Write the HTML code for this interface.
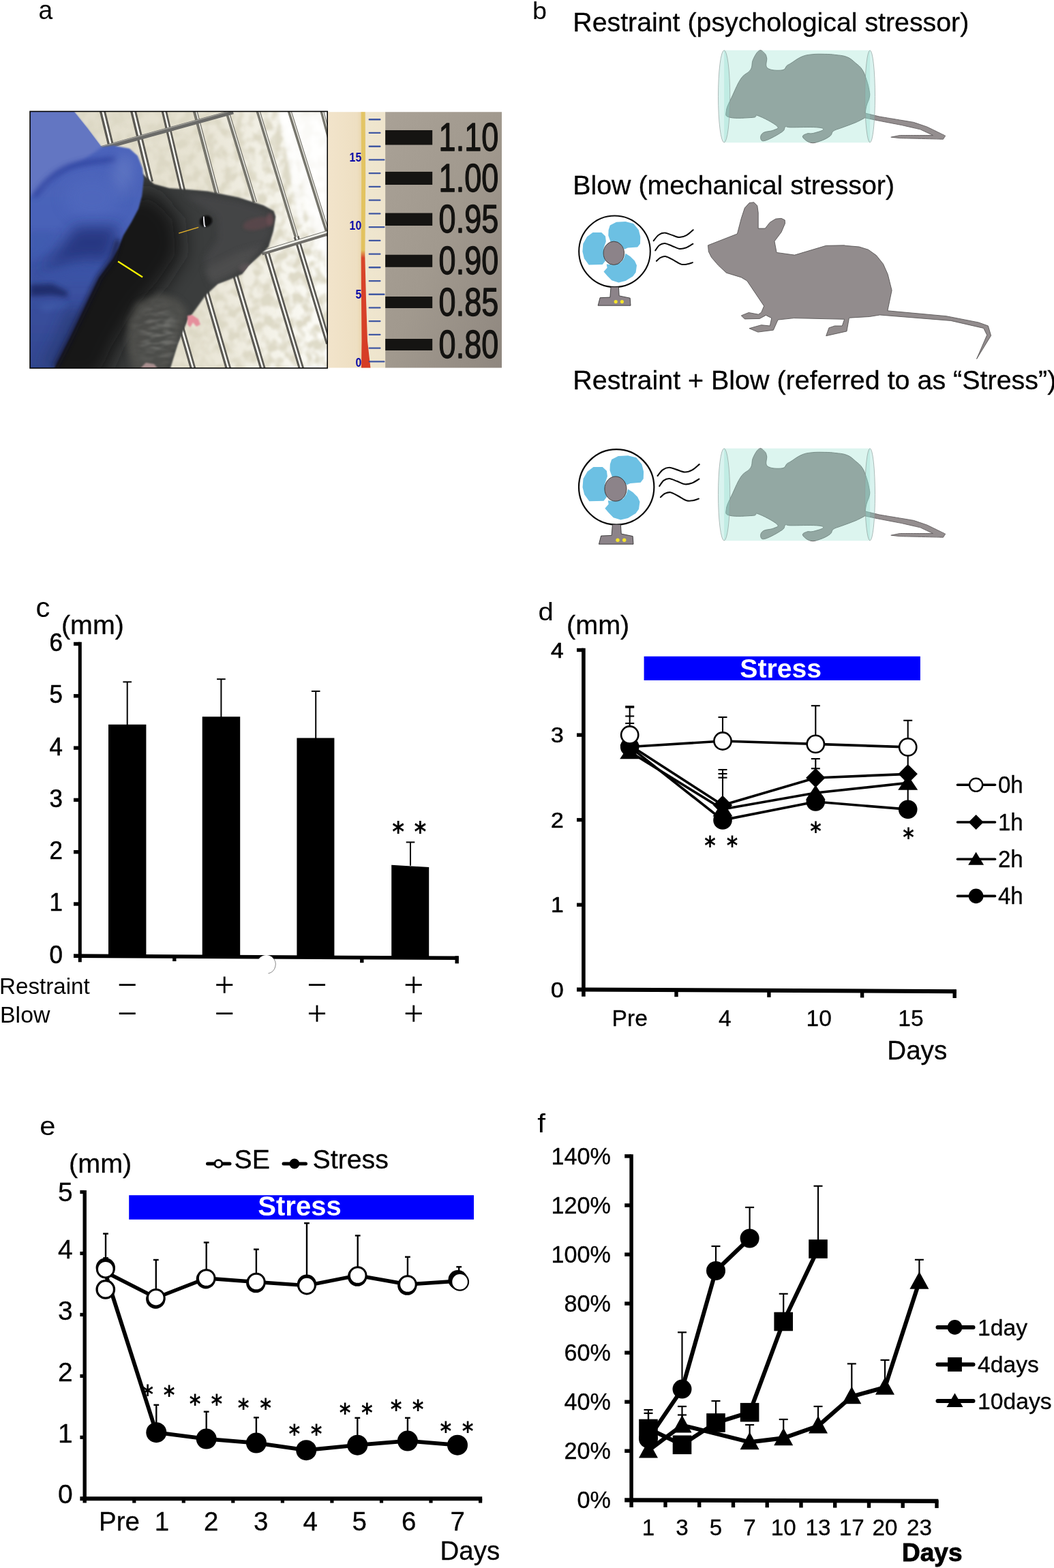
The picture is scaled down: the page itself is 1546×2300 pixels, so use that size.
<!DOCTYPE html>
<html lang="en"><head><meta charset="utf-8"><title>Figure 1</title>
<style>
html,body{margin:0;padding:0;background:#fff;}
body{width:1546px;height:2300px;overflow:hidden;}
svg{display:block;}
.t{font-family:"Liberation Sans",sans-serif;fill:#000;stroke:#000;stroke-width:0.3px;stroke-linejoin:round;}
.l{stroke:none;}
.k{stroke-width:0.6px;}
.s{font-family:"DejaVu Sans","Liberation Sans",sans-serif;font-weight:bold;fill:#000;}
.b{font-family:"Liberation Sans",sans-serif;font-weight:bold;}
</style></head>
<body>
<svg width="1546" height="2300" viewBox="0 0 1546 2300">
<rect width="1546" height="2300" fill="#fff"/>
<!-- panel a -->
<text transform="translate(56.6,28.3) scale(0.96,1)" font-size="38.8" class="t l">a</text>
<defs>
<clipPath id="pc"><rect x="44" y="163.5" width="436.3" height="376.4"/></clipPath>
<clipPath id="rc"><rect x="481" y="164.2" width="255" height="375.3"/></clipPath>
<filter id="bed" x="0" y="0" width="100%" height="100%">
<feTurbulence type="fractalNoise" baseFrequency="0.07 0.06" numOctaves="2" seed="11" result="n"/>
<feColorMatrix in="n" type="matrix" values="0 0 0 0 0.71  0 0 0 0 0.68  0 0 0 0 0.55  3.4 0 0 0 -1.3"/>
<feGaussianBlur stdDeviation="0.9"/>
</filter>
<filter id="fur" x="0" y="0" width="100%" height="100%">
<feTurbulence type="fractalNoise" baseFrequency="0.05 0.16" numOctaves="2" seed="5" result="n"/>
<feColorMatrix in="n" type="matrix" values="0 0 0 0 0.52  0 0 0 0 0.52  0 0 0 0 0.49  2.6 0 0 0 -1.0"/>
<feGaussianBlur stdDeviation="1.1"/>
</filter>
<filter id="b1" x="-20%" y="-20%" width="140%" height="140%"><feGaussianBlur stdDeviation="1"/></filter>
<filter id="b2" x="-20%" y="-20%" width="140%" height="140%"><feGaussianBlur stdDeviation="2.2"/></filter>
<filter id="b3" x="-30%" y="-30%" width="160%" height="160%"><feGaussianBlur stdDeviation="3.5"/></filter>
<filter id="b4" x="-30%" y="-30%" width="160%" height="160%"><feGaussianBlur stdDeviation="5"/></filter>
<filter id="b8" x="-50%" y="-50%" width="200%" height="200%"><feGaussianBlur stdDeviation="10"/></filter>
<filter id="b12" x="-60%" y="-60%" width="220%" height="220%"><feGaussianBlur stdDeviation="15"/></filter>
<filter id="b05" x="-20%" y="-20%" width="140%" height="140%"><feGaussianBlur stdDeviation="0.6"/></filter>
<linearGradient id="bg" x1="0" y1="0" x2="1" y2="0">
<stop offset="0" stop-color="#dfdac8"/><stop offset="0.55" stop-color="#e7e3d3"/><stop offset="0.8" stop-color="#f3f1e7"/><stop offset="1" stop-color="#fdfdf9"/>
</linearGradient>
<linearGradient id="gray" x1="0" y1="0" x2="1" y2="1">
<stop offset="0" stop-color="#a9a196"/><stop offset="0.5" stop-color="#a1998e"/><stop offset="1" stop-color="#8f877f"/>
</linearGradient>
<linearGradient id="beige" x1="0" y1="0" x2="1" y2="0">
<stop offset="0" stop-color="#f2e4cb"/><stop offset="0.5" stop-color="#eedfc2"/><stop offset="0.6" stop-color="#e9d6ad"/><stop offset="0.66" stop-color="#efe6cf"/><stop offset="1" stop-color="#eee4cc"/>
</linearGradient>
<linearGradient id="thr" x1="0" y1="0" x2="0" y2="1">
<stop offset="0" stop-color="#e3c566"/><stop offset="0.54" stop-color="#e2c25e"/><stop offset="0.57" stop-color="#d8452c"/><stop offset="1" stop-color="#d63c26"/>
</linearGradient>
<linearGradient id="glv" x1="0" y1="0" x2="0" y2="1">
<stop offset="0" stop-color="#4d66bd"/><stop offset="0.45" stop-color="#4a62b8"/><stop offset="0.6" stop-color="#3d54a6"/><stop offset="1" stop-color="#33478f"/>
</linearGradient>
</defs>
<g clip-path="url(#pc)">
<rect x="44" y="163" width="437" height="377" fill="url(#bg)"/>
<rect x="44" y="163" width="437" height="377" filter="url(#bed)" opacity="0.9"/>
<polygon points="405,163 490,163 490,420 474,380 456,330 440,270 425,210" fill="#fff" filter="url(#b4)" opacity="0.85"/>
<polygon points="410,163 425,163 447,330 438,330" fill="#fff" filter="url(#b2)" opacity="0.7"/>
<g filter="url(#b05)">
<line x1="149.6" y1="160.1" x2="163.5" y2="216.9" stroke="#5a5952" stroke-width="8.8"/><line x1="149.8" y1="160" x2="163.7" y2="216.9" stroke="#fbfbf6" stroke-width="2.6"/>
<line x1="194.8" y1="160.1" x2="220.7" y2="266.9" stroke="#5a5952" stroke-width="8.8"/><line x1="195" y1="160" x2="220.9" y2="266.9" stroke="#fbfbf6" stroke-width="2.6"/>
<line x1="240.1" y1="160.1" x2="268.3" y2="280.4" stroke="#5a5952" stroke-width="8.2"/><line x1="240.3" y1="160" x2="268.5" y2="280.4" stroke="#fbfbf6" stroke-width="2.4"/>
<line x1="285.8" y1="161.6" x2="318.2" y2="283.9" stroke="#76746c" stroke-width="6.8"/><line x1="287.1" y1="161.3" x2="319.4" y2="283.6" stroke="#f8f8f2" stroke-width="1.5"/>
<line x1="333.5" y1="164.5" x2="373.9" y2="296.8" stroke="#76746c" stroke-width="6.4"/><line x1="334.7" y1="164.2" x2="375" y2="296.4" stroke="#f8f8f2" stroke-width="1.4"/>
<line x1="378.1" y1="161.6" x2="436.4" y2="352.9" stroke="#76746c" stroke-width="6.2"/><line x1="379.2" y1="161.3" x2="437.5" y2="352.5" stroke="#f8f8f2" stroke-width="1.4"/>
<line x1="424.2" y1="161.6" x2="481.9" y2="345.9" stroke="#76746c" stroke-width="6"/><line x1="425.3" y1="161.3" x2="483" y2="345.5" stroke="#f8f8f2" stroke-width="1.3"/>
<line x1="471.9" y1="161.6" x2="482.8" y2="201.9" stroke="#76746c" stroke-width="5.8"/><line x1="473" y1="161.3" x2="483.8" y2="201.6" stroke="#f8f8f2" stroke-width="1.3"/>
<line x1="262.7" y1="469.1" x2="283.8" y2="542.9" stroke="#5a5952" stroke-width="8.4"/><line x1="262.9" y1="469.1" x2="284" y2="542.8" stroke="#fbfbf6" stroke-width="2.5"/>
<line x1="299.2" y1="417.1" x2="335.6" y2="542.9" stroke="#5a5952" stroke-width="8.4"/><line x1="299.4" y1="417.1" x2="335.8" y2="542.8" stroke="#fbfbf6" stroke-width="2.5"/>
<line x1="343.2" y1="397.1" x2="386.1" y2="542.9" stroke="#5a5952" stroke-width="8.4"/><line x1="343.3" y1="397.1" x2="386.3" y2="542.8" stroke="#fbfbf6" stroke-width="2.5"/>
<line x1="390" y1="366.4" x2="442.7" y2="542.9" stroke="#5a5952" stroke-width="8.2"/><line x1="390.2" y1="366.4" x2="442.8" y2="542.8" stroke="#fbfbf6" stroke-width="2.4"/>
<line x1="434.6" y1="347.1" x2="481.9" y2="503.9" stroke="#5a5952" stroke-width="8"/><line x1="434.8" y1="347.1" x2="482.1" y2="503.8" stroke="#fbfbf6" stroke-width="2.4"/>
<line x1="146" y1="218.1" x2="342" y2="164.1" stroke="#6b6b68" stroke-width="6.6"/>
<line x1="146" y1="215.9" x2="342" y2="161.9" stroke="#9d9c97" stroke-width="1.4"/>
<line x1="384" y1="371" x2="481" y2="341.6" stroke="#6f6e69" stroke-width="7.4"/>
<line x1="384" y1="369.4" x2="481" y2="340" stroke="#f2f2ec" stroke-width="2.6"/>
</g>
<clipPath id="mc"><polygon points="200,250 211,256.7 226,270 248.3,276 270,277.5 304.6,280.5 349.3,289.4 386.5,301.3 401.5,309.5 404.3,317.7 401,338.5 397.5,350 393.9,361.9 384,372 364.1,390.2 355.2,402 338,409.5 319.5,416.5 301.7,433.3 286.8,454 274.9,470 266,491.3 260.2,506.2 248.3,545 60,545 120,400 160,300"/></clipPath>
<polygon points="200,250 211,256.7 226,270 248.3,276 270,277.5 304.6,280.5 349.3,289.4 386.5,301.3 401.5,309.5 404.3,317.7 401,338.5 397.5,350 393.9,361.9 384,372 364.1,390.2 355.2,402 338,409.5 319.5,416.5 301.7,433.3 286.8,454 274.9,470 266,491.3 260.2,506.2 248.3,545 60,545 120,400 160,300" fill="#3b3c3e" filter="url(#b1)"/>
<g clip-path="url(#mc)">
<polygon points="160,290 225,280 262,320 268,372 240,415 205,455 172,510 150,560 40,560 110,400" fill="#141517" filter="url(#b12)" opacity="0.95"/>
<polygon points="200,445 235,430 262,440 275,455 268,485 255,515 245,545 195,545 186,505 188,470" fill="#51514d" filter="url(#b4)" opacity="0.85"/>
<mask id="fm"><ellipse cx="232" cy="490" rx="30" ry="42" fill="#fff" filter="url(#b8)"/></mask>
<g mask="url(#fm)"><rect x="170" y="410" width="120" height="135" filter="url(#fur)" opacity="0.3"/></g>
<polygon points="270,285 300,286 350,295 386,307 400,318 396,345 385,365 360,385 335,400 310,410 300,380 320,350 318,318" fill="#48494b" filter="url(#b4)" opacity="0.7"/>
<ellipse cx="378" cy="328" rx="22" ry="9" fill="#5d474b" filter="url(#b2)" opacity="0.8" transform="rotate(-12 378 328)"/>
<ellipse cx="396" cy="322" rx="5" ry="10" fill="#6e4f55" filter="url(#b2)" opacity="0.7"/>
<ellipse cx="359" cy="392" rx="9" ry="7" fill="#6b5a60" filter="url(#b2)" opacity="0.8"/>
<polygon points="300,395 350,370 385,360 365,388 340,405 310,418" fill="#4f4f50" filter="url(#b4)" opacity="0.8"/>
</g>
<ellipse cx="302" cy="324.5" rx="9.5" ry="8" fill="#0c0c0e" filter="url(#b1)" transform="rotate(-25 302 324.5)"/>
<path d="M298.6,317.5 L299.6,329.5 L300.8,333" fill="none" stroke="#e8e8ee" stroke-width="2" filter="url(#b05)"/>
<path d="M275,463 L282,462 L291,468 L294,476 L288,479 L283,473 L279,480 L275,476 Z" fill="#e58f9c" filter="url(#b1)"/>
<path d="M206,540 L214,532 L226,534 L231,540 Z" fill="#a88e8e" filter="url(#b1)"/>
<clipPath id="gc"><polygon points="40,160 108.7,164 128,188 148.8,215.7 166.5,213.6 190,218 201.8,228.6 209,246.8 210.9,262.3 208.3,286.9 203.1,306.3 192.8,325.7 181.1,345.1 173.4,364 165,379.8 144.9,407.3 124.2,450 102.2,495.2 80.2,538.6 78,545 40,545"/></clipPath>
<polygon points="40,160 108.7,164 128,188 148.8,215.7 166.5,213.6 190,218 201.8,228.6 209,246.8 210.9,262.3 208.3,286.9 203.1,306.3 192.8,325.7 181.1,345.1 173.4,364 165,379.8 144.9,407.3 124.2,450 102.2,495.2 80.2,538.6 78,545 40,545" fill="url(#glv)" filter="url(#b1)"/>
<g clip-path="url(#gc)">
<polygon points="40,160 112,160 152,214 121.6,235 102.2,243 82.8,254 63.4,276 40,290" fill="#6376c2" filter="url(#b2)"/>
<path d="M52,286 C66,268 80,254 100,245.5 C120,238 142,236 166,234" fill="none" stroke="#3548a4" stroke-width="9" filter="url(#b3)" stroke-linecap="round" opacity="0.9"/>
<ellipse cx="180" cy="255" rx="14" ry="30" fill="#6077c3" filter="url(#b8)" transform="rotate(12 180 255)" opacity="0.9"/>
<ellipse cx="135" cy="290" rx="40" ry="30" fill="#5068bd" filter="url(#b8)" opacity="0.9"/>
<polygon points="111.3,332.2 174.7,332.2 160.4,378.8 154,382.7 134.6,378.8 102.2,382.7 76.3,391.7 56.9,398.2 82.8,372.3" fill="#22337a" filter="url(#b8)" opacity="0.85"/>
<polygon points="63.4,400.8 108.7,391.7 154,389.2 144.9,407.3 134.6,412.4 102.2,412.4 69.9,415 56.9,409.9" fill="#3a52a6" filter="url(#b4)" opacity="0.8"/>
<polygon points="44,417.6 76.3,416.3 99.6,428 98.3,435.7 76.3,433.1 44,434.4" fill="#1d2c68" filter="url(#b3)" opacity="0.9"/>
<polygon points="56.9,447.4 95.7,443.5 98.3,450 63.4,456.4" fill="#4560ae" filter="url(#b4)" opacity="0.7"/>
<polygon points="44,340 82.8,340 69.9,365.9 44,385.3" fill="#3f5cb0" filter="url(#b4)" opacity="0.9"/>
<polygon points="98.3,456.4 124.2,450 102.2,495.2 78.9,540 59.5,540 82.8,495.2" fill="#26376f" filter="url(#b8)" opacity="0.8"/>
</g>
<path d="M173.4,352 L165,379.8 L144.9,407.3 L124.2,450 L102.2,495.2 L80.2,538.6" fill="none" stroke="#14192e" stroke-width="7" filter="url(#b3)" opacity="0.75"/>
<line x1="262.2" y1="342.2" x2="291.2" y2="333.3" stroke="#e9b52a" stroke-width="1.3"/>
<line x1="173.1" y1="383.5" x2="209.1" y2="406.5" stroke="#f8f400" stroke-width="2.2"/>
</g>
<rect x="44.05" y="163.45" width="436.2" height="376.5" fill="none" stroke="#000" stroke-width="1.6"/>
<g clip-path="url(#rc)">
<rect x="481" y="164" width="85" height="376" fill="url(#beige)"/>
<rect x="565.2" y="164" width="171" height="376" fill="url(#gray)"/>
<path d="M529.6,164 L535.6,164 L536.2,260 L535.3,375 L537,440 L539,500 L543.5,540 L530,540 L530.5,500 L530,440 L529.6,375 L530.2,260 Z" fill="url(#thr)" filter="url(#b05)"/>
<rect x="540.6" y="174.1" width="17.9" height="2.3" rx="1" fill="#2f489e" opacity="0.9" filter="url(#b05)"/>
<rect x="540.6" y="193.8" width="17.9" height="2.3" rx="1" fill="#2f489e" opacity="0.9" filter="url(#b05)"/>
<rect x="540.6" y="213.6" width="17.9" height="2.3" rx="1" fill="#2f489e" opacity="0.9" filter="url(#b05)"/>
<rect x="540.6" y="233.3" width="23.9" height="2.3" rx="1" fill="#2f489e" opacity="0.9" filter="url(#b05)"/>
<rect x="540.6" y="253" width="17.9" height="2.3" rx="1" fill="#2f489e" opacity="0.9" filter="url(#b05)"/>
<rect x="540.6" y="272.8" width="17.9" height="2.3" rx="1" fill="#2f489e" opacity="0.9" filter="url(#b05)"/>
<rect x="540.6" y="292.5" width="17.9" height="2.3" rx="1" fill="#2f489e" opacity="0.9" filter="url(#b05)"/>
<rect x="540.6" y="312.2" width="17.9" height="2.3" rx="1" fill="#2f489e" opacity="0.9" filter="url(#b05)"/>
<rect x="540.6" y="331.9" width="23.9" height="2.3" rx="1" fill="#2f489e" opacity="0.9" filter="url(#b05)"/>
<rect x="540.6" y="351.7" width="17.9" height="2.3" rx="1" fill="#2f489e" opacity="0.9" filter="url(#b05)"/>
<rect x="540.6" y="371.4" width="17.9" height="2.3" rx="1" fill="#2f489e" opacity="0.9" filter="url(#b05)"/>
<rect x="540.6" y="391.1" width="17.9" height="2.3" rx="1" fill="#2f489e" opacity="0.9" filter="url(#b05)"/>
<rect x="540.6" y="410.9" width="17.9" height="2.3" rx="1" fill="#2f489e" opacity="0.9" filter="url(#b05)"/>
<rect x="540.6" y="430.6" width="23.9" height="2.3" rx="1" fill="#2f489e" opacity="0.9" filter="url(#b05)"/>
<rect x="540.6" y="450.3" width="17.9" height="2.3" rx="1" fill="#2f489e" opacity="0.9" filter="url(#b05)"/>
<rect x="540.6" y="470" width="17.9" height="2.3" rx="1" fill="#2f489e" opacity="0.9" filter="url(#b05)"/>
<rect x="540.6" y="489.8" width="17.9" height="2.3" rx="1" fill="#2f489e" opacity="0.9" filter="url(#b05)"/>
<rect x="540.6" y="509.5" width="17.9" height="2.3" rx="1" fill="#2f489e" opacity="0.9" filter="url(#b05)"/>
<rect x="540.6" y="529.2" width="23.9" height="2.3" rx="1" fill="#2f489e" opacity="0.9" filter="url(#b05)"/>
<rect x="565.2" y="191" width="69" height="21.5" fill="#151412"/>
<rect x="565.2" y="251.9" width="69" height="19.1" fill="#151412"/>
<rect x="565.2" y="312.5" width="69" height="18.5" fill="#151412"/>
<rect x="565.2" y="373.7" width="69" height="18.1" fill="#151412"/>
<rect x="565.2" y="435" width="69" height="17" fill="#151412"/>
<rect x="565.2" y="497" width="69" height="17" fill="#151412"/>
<text transform="translate(643.6,220.6) scale(0.79,1)" font-size="57" class="t" style="fill:#131210;stroke:#131210;stroke-width:1.3px;stroke-linejoin:round">1.10</text>
<text transform="translate(643.6,280.6) scale(0.79,1)" font-size="57" class="t" style="fill:#131210;stroke:#131210;stroke-width:1.3px;stroke-linejoin:round">1.00</text>
<text transform="translate(643.6,341.1) scale(0.79,1)" font-size="57" class="t" style="fill:#131210;stroke:#131210;stroke-width:1.3px;stroke-linejoin:round">0.95</text>
<text transform="translate(643.6,402.1) scale(0.79,1)" font-size="57" class="t" style="fill:#131210;stroke:#131210;stroke-width:1.3px;stroke-linejoin:round">0.90</text>
<text transform="translate(643.6,463.1) scale(0.79,1)" font-size="57" class="t" style="fill:#131210;stroke:#131210;stroke-width:1.3px;stroke-linejoin:round">0.85</text>
<text transform="translate(643.6,524.6) scale(0.79,1)" font-size="57" class="t" style="fill:#131210;stroke:#131210;stroke-width:1.3px;stroke-linejoin:round">0.80</text>
<text transform="translate(530.3,237.4) scale(0.86,1)" font-size="18.5" class="b" text-anchor="end" style="fill:#0a0aa8">15</text>
<text transform="translate(530.3,337) scale(0.86,1)" font-size="18.5" class="b" text-anchor="end" style="fill:#0a0aa8">10</text>
<text transform="translate(530.3,437.5) scale(0.86,1)" font-size="18.5" class="b" text-anchor="end" style="fill:#0a0aa8">5</text>
<text transform="translate(530.3,538) scale(0.86,1)" font-size="18.5" class="b" text-anchor="end" style="fill:#0a0aa8">0</text>
</g>

<!-- panel b -->
<defs>
<g id="fan">
<circle cx="0" cy="0" r="52.3" fill="#fff" stroke="#0a0a0a" stroke-width="2.1"/>
<polygon points="-6.7,-38.3 2.5,-43.1 16.0,-43.7 27.7,-40.9 35.3,-31.6 37.8,-21.5 37.5,-11.4 33.6,-6.4 19.3,-5.2 14.3,-3.0 9.2,-9.8 2.5,-14.0 -5.9,-14.0 -9.2,-23.2 -8.9,-31.6" fill="#6cc0e3"/>
<polygon points="-32.0,-27.9 -19.3,-27.9 -13.5,-22.4 -12.6,-14.8 -16.0,-4.7 -16.3,5.4 -13.5,13.8 -17.7,19.2 -37.8,19.7 -44.6,10.4 -47.1,0.3 -46.2,-11.4 -40.4,-21.5" fill="#6cc0e3"/>
<polygon points="16.0,2.9 22.7,7.1 29.4,13.8 32.5,20.5 31.1,30.6 26.9,36.5 16.0,43.2 5.9,45.7 -4.2,42.4 -10.9,35.7 -16.0,29.8 -10.9,23.9 -11.8,18.8 -0.8,19.7 9.2,16.3 13.5,10.4" fill="#6cc0e3"/>
<ellipse cx="-1.2" cy="2.5" rx="15.2" ry="17.2" fill="#8c8389" stroke="#2a2a2a" stroke-width="0.8"/>
<polygon points="-21.4,67.9 -6.7,67.3 -5.5,52.1 5.9,52.1 6.7,65.1 22.7,68.4 23.5,79.4 -24.4,79.4" fill="#8c8389" stroke="#2a2a2a" stroke-width="0.8"/>
<circle cx="1.7" cy="73.8" r="2.6" fill="#f4e32c"/>
<circle cx="10.9" cy="73.8" r="2.6" fill="#f4e32c"/>
<path d="M57.2,-15.6 C58.4,-17.0 61.7,-22.1 64.4,-24.0 C67.1,-26.0 70.0,-27.2 73.2,-27.2 C76.4,-27.3 79.9,-25.3 83.6,-24.2 C87.2,-23.1 91.4,-20.8 95.0,-20.7 C98.7,-20.6 102.1,-21.9 105.4,-23.7 C108.8,-25.5 113.6,-30.3 115.2,-31.6" fill="none" stroke="#0a0a0a" stroke-width="2" stroke-linecap="round"/>
<path d="M59.7,-1.3 C60.7,-2.6 63.3,-7.3 65.6,-9.1 C67.9,-10.8 70.4,-11.9 73.5,-11.8 C76.6,-11.6 80.5,-9.4 84.1,-8.1 C87.7,-6.8 91.5,-4.3 95.0,-3.9 C98.5,-3.4 101.8,-4.3 105.1,-5.5 C108.4,-6.8 113.2,-10.2 114.9,-11.1" fill="none" stroke="#0a0a0a" stroke-width="2" stroke-linecap="round"/>
<path d="M61.4,14.1 C62.4,13.3 65.0,10.2 67.3,9.1 C69.6,8.0 72.0,6.8 75.2,7.4 C78.4,8.0 82.9,11.0 86.6,12.9 C90.3,14.9 94.3,17.9 97.5,18.8 C100.8,19.8 103.1,19.3 106.0,18.8 C108.8,18.4 113.0,16.7 114.4,16.3" fill="none" stroke="#0a0a0a" stroke-width="2" stroke-linecap="round"/>
</g>
<g id="tubemouse">
<path d="M1065.4,162.3 C1066.1,155.8 1070.3,149.3 1074.6,139.8 C1079.0,130.3 1081.9,122.3 1087.1,114.9 C1092.3,107.4 1097.3,107.9 1100.8,102.4 C1104.3,96.9 1102.1,93.0 1104.6,87.4 C1107.1,81.8 1110.1,76.4 1113.3,74.4 C1116.6,72.4 1118.6,75.3 1120.8,77.4 C1123.1,79.5 1123.6,80.4 1124.6,84.9 C1125.6,89.4 1121.3,96.3 1125.8,99.9 C1130.3,103.5 1141.3,103.6 1147.0,102.9 C1152.8,102.1 1151.9,98.1 1154.5,96.1 C1157.1,94.1 1155.9,95.4 1160.0,92.9 C1164.1,90.4 1169.0,86.2 1175.0,83.6 C1181.0,81.0 1183.0,80.7 1190.0,79.9 C1197.0,79.0 1202.9,79.3 1209.9,79.4 C1216.9,79.5 1218.4,79.5 1224.9,80.4 C1231.4,81.2 1236.4,81.2 1242.4,83.6 C1248.4,86.0 1250.4,88.6 1254.9,92.4 C1259.4,96.1 1261.6,97.4 1264.9,102.4 C1268.1,107.4 1269.1,111.4 1271.1,117.3 C1273.1,123.3 1274.0,127.3 1274.9,132.3 C1275.7,137.3 1276.1,137.8 1275.4,142.3 C1274.6,146.8 1272.4,150.1 1271.1,154.8 C1269.9,159.5 1269.1,166.0 1269.1,166.0 C1269.1,166.0 1269.1,166.0 1269.1,166.0 C1269.1,166.0 1289.8,171.0 1289.8,171.0 C1289.8,171.0 1339.8,179.3 1339.8,179.3 C1339.8,179.3 1359.7,186.0 1359.7,186.0 C1359.7,186.0 1386.7,199.2 1386.7,199.2 C1386.7,199.2 1383.5,204.2 1383.5,204.2 C1383.5,204.2 1319.8,202.7 1319.8,202.7 C1319.8,202.7 1306.8,201.2 1306.8,201.2 C1306.8,201.2 1319.8,198.5 1319.8,198.5 C1319.8,198.5 1368.5,198.5 1368.5,198.5 C1368.5,198.5 1349.8,189.8 1349.8,189.8 C1349.8,189.8 1322.3,183.5 1322.3,183.5 C1322.3,183.5 1289.8,177.3 1289.8,177.3 C1289.8,177.3 1268.6,172.8 1268.6,172.8 C1268.6,172.8 1268.6,172.8 1268.6,172.8 C1268.6,172.8 1261.6,176.9 1254.9,179.8 C1248.1,182.7 1241.4,184.8 1234.9,187.3 C1228.4,189.8 1225.9,189.8 1222.4,192.3 C1218.9,194.7 1221.4,196.7 1217.4,199.7 C1213.4,202.7 1208.2,205.3 1202.4,207.2 C1196.7,209.1 1193.7,210.5 1188.7,209.2 C1183.7,208.0 1178.5,203.6 1177.5,201.0 C1176.5,198.3 1180.7,197.1 1183.7,196.0 C1186.7,194.9 1187.7,196.6 1192.5,195.5 C1197.2,194.3 1206.4,192.0 1207.4,190.3 C1208.4,188.5 1206.9,187.5 1197.5,186.8 C1188.0,186.1 1169.1,186.9 1160.0,186.8 C1150.9,186.6 1154.6,184.7 1152.0,186.0 C1149.4,187.4 1152.8,189.5 1147.0,193.5 C1141.3,197.5 1129.5,204.0 1123.3,206.0 C1117.1,208.0 1116.6,205.7 1115.8,203.5 C1115.1,201.2 1115.8,197.2 1119.6,194.7 C1123.3,192.3 1130.5,193.0 1134.5,191.0 C1138.5,189.0 1144.0,189.0 1139.5,184.8 C1135.0,180.5 1119.1,172.3 1112.1,169.8 C1105.1,167.3 1112.8,171.8 1104.6,172.3 C1096.3,172.8 1078.7,174.3 1070.9,172.3 C1063.0,170.3 1064.6,168.8 1065.4,162.3Z" fill="#948e8f" stroke="#5f5a5b" stroke-width="0.9" stroke-linejoin="round"/>
<rect x="1062.1" y="73.7" width="214" height="135.5" fill="#92e0cd" fill-opacity="0.32"/>
<ellipse cx="1062.1" cy="141.4" rx="8.6" ry="67.6" fill="#8cdccd" fill-opacity="0.33" stroke="#8e9c99" stroke-opacity="0.75" stroke-width="0.9"/>
<ellipse cx="1276.1" cy="141.4" rx="7.4" ry="67.6" fill="#8cdccd" fill-opacity="0.33" stroke="#8e9c99" stroke-opacity="0.75" stroke-width="0.9"/>
</g>
</defs>
<text transform="translate(781,28) scale(1.08,1)" font-size="35" class="t l">b</text>
<text x="840.3" y="46.3" font-size="39.3" class="t">Restraint (psychological stressor)</text>
<text x="840.3" y="285.4" font-size="39.3" class="t">Blow (mechanical stressor)</text>
<text x="840.3" y="571.2" font-size="39.45" class="t">Restraint + Blow (referred to as “Stress”)</text>
<use href="#tubemouse"/>
<use href="#tubemouse" transform="translate(0,584)"/>
<use href="#fan" transform="translate(901.5,368.8)"/>
<use href="#fan" transform="translate(904.2,714.4) scale(1.055)"/>
<polygon points="1038.5,359.8 1081.4,343.0 1087.3,320.3 1092.3,305.1 1099.0,297.6 1105.8,296.7 1110.8,301.8 1112.2,311.9 1112.2,335.1 1122.3,335.1 1129.3,326.2 1137.7,321.1 1146.1,320.3 1151.2,322.8 1151.5,327.8 1146.1,340.5 1136.0,353.9 1139.1,370.4 1165.5,374.1 1211.7,360.3 1238.6,359.8 1240.0,360.3 1260.2,362.0 1273.6,366.2 1285.4,374.6 1295.5,387.2 1302.2,402.3 1308.1,425.9 1301.9,455.8 1388.0,463.7 1435.1,472.9 1449.4,478.0 1453.6,492.3 1432.6,526.4 1447.7,491.4 1442.7,481.4 1394.7,470.4 1290.5,462.0 1275.3,464.5 1245.9,466.2 1245.4,466.6 1242.0,485.9 1211.7,492.7 1215.9,480.9 1224.3,478.0 1235.3,478.0 1238.6,468.3 1164.6,466.6 1141.1,469.1 1134.4,484.2 1111.7,487.1 1099.0,481.7 1116.7,476.7 1129.3,478.0 1131.8,466.6 1123.4,462.4 1114.2,467.4 1092.3,467.9 1087.3,462.9 1098.2,458.5 1112.5,461.2 1116.7,458.2 1120.6,448.9 1095.7,411.9 1087.3,406.9 1065.4,400.2 1053.6,389.2 1043.5,377.5 1039.3,369.0" fill="#928c8d" stroke="#4a4748" stroke-width="0.8" stroke-linejoin="round"/>

<!-- panel c -->
<text transform="translate(52.6,904.9) scale(1.04,1)" font-size="40" class="t l">c</text>
<text x="90" y="929.8" font-size="39.4" class="t">(mm)</text>
<line x1="117.3" y1="941.8" x2="117.3" y2="1411.3" stroke="#000" stroke-width="5"/>
<polygon points="108,1399.3 672.5,1402.6 672.5,1408.1 108,1405" fill="#000"/>
<text transform="translate(91.8,1412.7) scale(0.96,1)" font-size="36.3" class="t k" text-anchor="end">0</text>
<line x1="108" y1="1326" x2="117.3" y2="1326" stroke="#000" stroke-width="5.4"/>
<text transform="translate(91.8,1336.4) scale(0.96,1)" font-size="36.3" class="t k" text-anchor="end">1</text>
<line x1="108" y1="1249.7" x2="117.3" y2="1249.7" stroke="#000" stroke-width="5.4"/>
<text transform="translate(91.8,1260.1) scale(0.96,1)" font-size="36.3" class="t k" text-anchor="end">2</text>
<line x1="108" y1="1173.4" x2="117.3" y2="1173.4" stroke="#000" stroke-width="5.4"/>
<text transform="translate(91.8,1183.8) scale(0.96,1)" font-size="36.3" class="t k" text-anchor="end">3</text>
<line x1="108" y1="1097.1" x2="117.3" y2="1097.1" stroke="#000" stroke-width="5.4"/>
<text transform="translate(91.8,1107.5) scale(0.96,1)" font-size="36.3" class="t k" text-anchor="end">4</text>
<line x1="108" y1="1020.8" x2="117.3" y2="1020.8" stroke="#000" stroke-width="5.4"/>
<text transform="translate(91.8,1031.2) scale(0.96,1)" font-size="36.3" class="t k" text-anchor="end">5</text>
<line x1="108" y1="944.5" x2="117.3" y2="944.5" stroke="#000" stroke-width="5.4"/>
<text transform="translate(91.8,954.9) scale(0.96,1)" font-size="36.3" class="t k" text-anchor="end">6</text>
<line x1="255.8" y1="1402.3" x2="255.8" y2="1410" stroke="#000" stroke-width="5.4"/>
<line x1="393.5" y1="1402.3" x2="393.5" y2="1411.1" stroke="#000" stroke-width="5.4"/>
<line x1="530.8" y1="1402.3" x2="530.8" y2="1412.2" stroke="#000" stroke-width="5.4"/>
<line x1="670.2" y1="1402.3" x2="670.2" y2="1413.3" stroke="#000" stroke-width="5.4"/>
<polygon points="159,1062.8 214.4,1062.8 214.4,1403.6 159,1403.6" fill="#000"/>
<line x1="186.7" y1="1000.3" x2="186.7" y2="1063.8" stroke="#000" stroke-width="2"/><line x1="180.4" y1="1000.3" x2="193" y2="1000.3" stroke="#000" stroke-width="2"/>
<polygon points="296.7,1051.2 352.2,1051.2 352.2,1404.3 296.7,1404.3" fill="#000"/>
<line x1="324.4" y1="996.2" x2="324.4" y2="1052.2" stroke="#000" stroke-width="2"/><line x1="318.1" y1="996.2" x2="330.7" y2="996.2" stroke="#000" stroke-width="2"/>
<polygon points="435.4,1082.5 490.4,1082.5 490.4,1405 435.4,1405" fill="#000"/>
<line x1="463.2" y1="1013.9" x2="463.2" y2="1083.5" stroke="#000" stroke-width="2"/><line x1="456.9" y1="1013.9" x2="469.5" y2="1013.9" stroke="#000" stroke-width="2"/>
<polygon points="574.2,1268.7 629.2,1272.1 629.2,1405.8 574.2,1405.8" fill="#000"/>
<line x1="602" y1="1235.4" x2="602" y2="1269.7" stroke="#000" stroke-width="2"/><line x1="595.7" y1="1235.4" x2="608.3" y2="1235.4" stroke="#000" stroke-width="2"/>
<text transform="translate(584,1213.3) scale(1.001,1.220)" x="-8.87" y="17.36" font-size="34" class="s">*</text>
<text transform="translate(616.3,1213.3) scale(1.001,1.220)" x="-8.87" y="17.36" font-size="34" class="s">*</text>
<circle cx="390.6" cy="1414.6" r="13.6" fill="#fff"/>
<path d="M399.5,1404.3 A13.6,13.6 0 0 1 393.5,1427.9" fill="none" stroke="#555" stroke-width="0.7"/>
<text x="-1" y="1457.8" font-size="33.2" class="t l">Restraint</text>
<text x="0" y="1499.5" font-size="33.2" class="t l" textLength="73.5" lengthAdjust="spacingAndGlyphs">Blow</text>
<text x="186.7" y="1456.7" font-size="33.5" class="t" text-anchor="middle" style="font-family:&quot;Liberation Sans&quot;,&quot;Noto Sans CJK JP&quot;,sans-serif;font-weight:500;stroke:none">－</text>
<text x="186.7" y="1498.5" font-size="33.5" class="t" text-anchor="middle" style="font-family:&quot;Liberation Sans&quot;,&quot;Noto Sans CJK JP&quot;,sans-serif;font-weight:500;stroke:none">－</text>
<text x="329.2" y="1456.7" font-size="33.5" class="t" text-anchor="middle" style="font-family:&quot;Liberation Sans&quot;,&quot;Noto Sans CJK JP&quot;,sans-serif;font-weight:500;stroke:none">＋</text>
<text x="329.2" y="1498.5" font-size="33.5" class="t" text-anchor="middle" style="font-family:&quot;Liberation Sans&quot;,&quot;Noto Sans CJK JP&quot;,sans-serif;font-weight:500;stroke:none">－</text>
<text x="465" y="1456.7" font-size="33.5" class="t" text-anchor="middle" style="font-family:&quot;Liberation Sans&quot;,&quot;Noto Sans CJK JP&quot;,sans-serif;font-weight:500;stroke:none">－</text>
<text x="465" y="1498.5" font-size="33.5" class="t" text-anchor="middle" style="font-family:&quot;Liberation Sans&quot;,&quot;Noto Sans CJK JP&quot;,sans-serif;font-weight:500;stroke:none">＋</text>
<text x="606.7" y="1456.7" font-size="33.5" class="t" text-anchor="middle" style="font-family:&quot;Liberation Sans&quot;,&quot;Noto Sans CJK JP&quot;,sans-serif;font-weight:500;stroke:none">＋</text>
<text x="606.7" y="1498.5" font-size="33.5" class="t" text-anchor="middle" style="font-family:&quot;Liberation Sans&quot;,&quot;Noto Sans CJK JP&quot;,sans-serif;font-weight:500;stroke:none">＋</text>

<!-- panel d -->
<text transform="translate(789.6,909.6) scale(1.1,1)" font-size="36.5" class="t l">d</text>
<text x="831" y="929.8" font-size="39.6" class="t">(mm)</text>
<line x1="855.9" y1="950.8" x2="855.9" y2="1461.7" stroke="#000" stroke-width="5.6"/>
<polygon points="846,1448.4 1402.8,1451.3 1402.8,1457.3 846,1454.4" fill="#000"/>
<text transform="translate(826.8,1462.8) scale(1.07,1)" font-size="31.5" class="t k" text-anchor="end">0</text>
<line x1="846" y1="1327.2" x2="855.9" y2="1327.2" stroke="#000" stroke-width="5.4"/>
<text transform="translate(826.8,1338.2) scale(1.07,1)" font-size="31.5" class="t k" text-anchor="end">1</text>
<line x1="846" y1="1202.6" x2="855.9" y2="1202.6" stroke="#000" stroke-width="5.4"/>
<text transform="translate(826.8,1213.7) scale(1.07,1)" font-size="31.5" class="t k" text-anchor="end">2</text>
<line x1="846" y1="1078.1" x2="855.9" y2="1078.1" stroke="#000" stroke-width="5.4"/>
<text transform="translate(826.8,1089.2) scale(1.07,1)" font-size="31.5" class="t k" text-anchor="end">3</text>
<line x1="846" y1="953.5" x2="855.9" y2="953.5" stroke="#000" stroke-width="5.4"/>
<text transform="translate(826.8,964.6) scale(1.07,1)" font-size="31.5" class="t k" text-anchor="end">4</text>
<line x1="992" y1="1451.7" x2="992" y2="1462.2" stroke="#000" stroke-width="5.4"/>
<line x1="1127.9" y1="1451.7" x2="1127.9" y2="1462.8" stroke="#000" stroke-width="5.4"/>
<line x1="1264.6" y1="1451.7" x2="1264.6" y2="1463.4" stroke="#000" stroke-width="5.4"/>
<line x1="1400.2" y1="1451.7" x2="1400.2" y2="1464" stroke="#000" stroke-width="5.4"/>
<text x="923.7" y="1505.2" font-size="33.6" class="t" text-anchor="middle">Pre</text>
<text x="1063.4" y="1505.2" font-size="33.6" class="t" text-anchor="middle">4</text>
<text x="1201.2" y="1505.2" font-size="33.6" class="t" text-anchor="middle">10</text>
<text x="1336" y="1505.2" font-size="33.6" class="t" text-anchor="middle">15</text>
<text x="1301.3" y="1554.3" font-size="38.6" class="t">Days</text>
<rect x="944.6" y="962.8" width="405.3" height="35.1" fill="#0000fe"/>
<text x="1145.2" y="993.8" font-size="39.2" class="b" text-anchor="middle" style="fill:#fff">Stress</text>
<line x1="923.7" y1="1036.2" x2="923.7" y2="1090" stroke="#000" stroke-width="2.1"/><line x1="917.2" y1="1036.2" x2="930.2" y2="1036.2" stroke="#000" stroke-width="2.1"/><line x1="917.2" y1="1037.6" x2="930.2" y2="1037.6" stroke="#000" stroke-width="2.1"/><line x1="917.2" y1="1050.5" x2="930.2" y2="1050.5" stroke="#000" stroke-width="2.1"/><line x1="917.2" y1="1061" x2="930.2" y2="1061" stroke="#000" stroke-width="2.1"/>
<line x1="1060" y1="1052" x2="1060" y2="1087" stroke="#000" stroke-width="2.1"/><line x1="1053.5" y1="1052" x2="1066.5" y2="1052" stroke="#000" stroke-width="2.1"/>
<line x1="1060" y1="1129" x2="1060" y2="1200" stroke="#000" stroke-width="2.1"/><line x1="1053.5" y1="1129" x2="1066.5" y2="1129" stroke="#000" stroke-width="2.1"/><line x1="1053.5" y1="1135" x2="1066.5" y2="1135" stroke="#000" stroke-width="2.1"/><line x1="1053.5" y1="1140.7" x2="1066.5" y2="1140.7" stroke="#000" stroke-width="2.1"/>
<line x1="1196.3" y1="1035.2" x2="1196.3" y2="1091" stroke="#000" stroke-width="2.1"/><line x1="1189.8" y1="1035.2" x2="1202.8" y2="1035.2" stroke="#000" stroke-width="2.1"/>
<line x1="1196.3" y1="1113" x2="1196.3" y2="1170" stroke="#000" stroke-width="2.1"/><line x1="1189.8" y1="1113" x2="1202.8" y2="1113" stroke="#000" stroke-width="2.1"/><line x1="1189.8" y1="1127.3" x2="1202.8" y2="1127.3" stroke="#000" stroke-width="2.1"/>
<line x1="1331.7" y1="1056.8" x2="1331.7" y2="1096" stroke="#000" stroke-width="2.1"/><line x1="1325.2" y1="1056.8" x2="1338.2" y2="1056.8" stroke="#000" stroke-width="2.1"/>
<line x1="1331.7" y1="1100" x2="1331.7" y2="1187" stroke="#000" stroke-width="2.1"/>
<polyline points="923.7,1095.4 1060,1202.9 1196.3,1176 1331.7,1187.2" fill="none" stroke="#000" stroke-width="3.7" stroke-linejoin="round"/>
<polyline points="923.7,1102.8 1060,1187 1196.3,1163 1331.7,1148.4" fill="none" stroke="#000" stroke-width="3.7" stroke-linejoin="round"/>
<polyline points="923.7,1093 1060,1181 1196.3,1141 1331.7,1135.3" fill="none" stroke="#000" stroke-width="3.7" stroke-linejoin="round"/>
<polyline points="923.7,1095.5 1060,1087 1196.3,1091.4 1331.7,1095.9" fill="none" stroke="#000" stroke-width="3.7" stroke-linejoin="round"/>
<polygon points="923.7,1091.3 938.2,1113.2 909.2,1113.2" fill="#000"/>
<polygon points="1060,1175.5 1074.5,1197.4 1045.5,1197.4" fill="#000"/>
<polygon points="1196.3,1151.5 1210.8,1173.4 1181.8,1173.4" fill="#000"/>
<polygon points="1331.7,1136.9 1346.2,1158.8 1317.2,1158.8" fill="#000"/>
<polygon points="923.7,1078.8 937.9,1093 923.7,1107.2 909.5,1093" fill="#000"/>
<polygon points="1060,1166.8 1074.2,1181 1060,1195.2 1045.8,1181" fill="#000"/>
<polygon points="1196.3,1126.8 1210.5,1141 1196.3,1155.2 1182.1,1141" fill="#000"/>
<polygon points="1331.7,1121.1 1345.9,1135.3 1331.7,1149.5 1317.5,1135.3" fill="#000"/>
<circle cx="923.7" cy="1095.4" r="13.8" fill="#000"/>
<circle cx="1060" cy="1202.9" r="13.8" fill="#000"/>
<circle cx="1196.3" cy="1176" r="13.8" fill="#000"/>
<circle cx="1331.7" cy="1187.2" r="13.8" fill="#000"/>
<circle cx="923.7" cy="1078" r="12.6" fill="#fff" stroke="#000" stroke-width="2.6"/>
<circle cx="1060" cy="1087" r="12.6" fill="#fff" stroke="#000" stroke-width="2.6"/>
<circle cx="1196.3" cy="1091.4" r="12.6" fill="#fff" stroke="#000" stroke-width="2.6"/>
<circle cx="1331.7" cy="1095.9" r="12.6" fill="#fff" stroke="#000" stroke-width="2.6"/>
<text transform="translate(1041.6,1234.4) scale(0.928,1.099)" x="-8.87" y="17.36" font-size="34" class="s">*</text>
<text transform="translate(1073.9,1234.4) scale(0.928,1.099)" x="-8.87" y="17.36" font-size="34" class="s">*</text>
<text transform="translate(1196.4,1212.5) scale(0.928,1.099)" x="-8.87" y="17.36" font-size="34" class="s">*</text>
<text transform="translate(1332.6,1221.8) scale(0.928,1.099)" x="-8.87" y="17.36" font-size="34" class="s">*</text>
<line x1="1404.5" y1="1151.3" x2="1459.5" y2="1151.3" stroke="#000" stroke-width="3.6" stroke-linecap="round"/>
<text transform="translate(1464,1163.2) scale(0.93,1)" font-size="35.5" class="t">0h</text>
<line x1="1404.5" y1="1206" x2="1459.5" y2="1206" stroke="#000" stroke-width="3.6" stroke-linecap="round"/>
<text transform="translate(1464,1217.9) scale(0.93,1)" font-size="35.5" class="t">1h</text>
<line x1="1404.5" y1="1260.2" x2="1459.5" y2="1260.2" stroke="#000" stroke-width="3.6" stroke-linecap="round"/>
<text transform="translate(1464,1272.1) scale(0.93,1)" font-size="35.5" class="t">2h</text>
<line x1="1404.5" y1="1314.4" x2="1459.5" y2="1314.4" stroke="#000" stroke-width="3.6" stroke-linecap="round"/>
<text transform="translate(1464,1326.3) scale(0.93,1)" font-size="35.5" class="t">4h</text>
<circle cx="1431.6" cy="1151.3" r="9.6" fill="#fff" stroke="#000" stroke-width="2.4"/>
<polygon points="1431.6,1195 1442.6,1206 1431.6,1217 1420.6,1206" fill="#000"/>
<polygon points="1431.6,1249.7 1443.1,1268.7 1420.1,1268.7" fill="#000"/>
<circle cx="1431.6" cy="1314.4" r="10.8" fill="#000"/>

<!-- panel e -->
<text transform="translate(58.2,1665) scale(1.1,1)" font-size="38" class="t l">e</text>
<text x="101" y="1720.4" font-size="39.6" class="t">(mm)</text>
<line x1="304.5" y1="1707" x2="337" y2="1707" stroke="#000" stroke-width="5" stroke-linecap="round"/>
<circle cx="320.4" cy="1707" r="5.4" fill="#fff" stroke="#000" stroke-width="2.8"/>
<text x="343.5" y="1713.8" font-size="39.3" class="t">SE</text>
<line x1="416" y1="1707" x2="448.5" y2="1707" stroke="#000" stroke-width="5" stroke-linecap="round"/>
<circle cx="431.9" cy="1707" r="7.4" fill="#000"/>
<text x="458.5" y="1713.8" font-size="39.3" class="t">Stress</text>
<line x1="124.2" y1="1746" x2="124.2" y2="2204.6" stroke="#000" stroke-width="5.4"/>
<line x1="117.4" y1="2198.3" x2="707.2" y2="2198.3" stroke="#000" stroke-width="5.9"/>
<text x="106.8" y="2205" font-size="39" class="t" text-anchor="end">0</text>
<line x1="117.4" y1="2108.3" x2="124.2" y2="2108.3" stroke="#000" stroke-width="5.2"/>
<text x="106.8" y="2115.5" font-size="39" class="t" text-anchor="end">1</text>
<line x1="117.4" y1="2018.4" x2="124.2" y2="2018.4" stroke="#000" stroke-width="5.2"/>
<text x="106.8" y="2025.8" font-size="39" class="t" text-anchor="end">2</text>
<line x1="117.4" y1="1928.4" x2="124.2" y2="1928.4" stroke="#000" stroke-width="5.2"/>
<text x="106.8" y="1936" font-size="39" class="t" text-anchor="end">3</text>
<line x1="117.4" y1="1838.5" x2="124.2" y2="1838.5" stroke="#000" stroke-width="5.2"/>
<text x="106.8" y="1845.5" font-size="39" class="t" text-anchor="end">4</text>
<line x1="117.4" y1="1748.5" x2="124.2" y2="1748.5" stroke="#000" stroke-width="5.2"/>
<text x="106.8" y="1761.7" font-size="39" class="t" text-anchor="end">5</text>
<line x1="196.8" y1="2198.3" x2="196.8" y2="2204.6" stroke="#000" stroke-width="5.2"/>
<line x1="269.3" y1="2198.3" x2="269.3" y2="2204.6" stroke="#000" stroke-width="5.2"/>
<line x1="341.8" y1="2198.3" x2="341.8" y2="2204.6" stroke="#000" stroke-width="5.2"/>
<line x1="414.4" y1="2198.3" x2="414.4" y2="2204.6" stroke="#000" stroke-width="5.2"/>
<line x1="486.9" y1="2198.3" x2="486.9" y2="2204.6" stroke="#000" stroke-width="5.2"/>
<line x1="559.5" y1="2198.3" x2="559.5" y2="2204.6" stroke="#000" stroke-width="5.2"/>
<line x1="632" y1="2198.3" x2="632" y2="2204.6" stroke="#000" stroke-width="5.2"/>
<line x1="704.6" y1="2198.3" x2="704.6" y2="2204.6" stroke="#000" stroke-width="5.2"/>
<text x="175" y="2244.6" font-size="38.5" class="t" text-anchor="middle">Pre</text>
<text x="237.4" y="2244.6" font-size="38.5" class="t" text-anchor="middle">1</text>
<text x="309.6" y="2244.6" font-size="38.5" class="t" text-anchor="middle">2</text>
<text x="382.6" y="2244.6" font-size="38.5" class="t" text-anchor="middle">3</text>
<text x="455.2" y="2244.6" font-size="38.5" class="t" text-anchor="middle">4</text>
<text x="527.2" y="2244.6" font-size="38.5" class="t" text-anchor="middle">5</text>
<text x="599.6" y="2244.6" font-size="38.5" class="t" text-anchor="middle">6</text>
<text x="671.2" y="2244.6" font-size="38.5" class="t" text-anchor="middle">7</text>
<text x="645.5" y="2287.6" font-size="38.5" class="t">Days</text>
<rect x="189.2" y="1753.2" width="505.8" height="35.6" fill="#0000fe"/>
<text x="439.5" y="1782.9" font-size="40" class="b" text-anchor="middle" style="fill:#fff">Stress</text>
<line x1="155" y1="1809.6" x2="155" y2="1866" stroke="#000" stroke-width="2.4"/><line x1="151.1" y1="1809.6" x2="158.9" y2="1809.6" stroke="#000" stroke-width="2.4"/>
<line x1="228.8" y1="1848" x2="228.8" y2="1903.7" stroke="#000" stroke-width="2.4"/><line x1="224.9" y1="1848" x2="232.7" y2="1848" stroke="#000" stroke-width="2.4"/>
<line x1="302.7" y1="1822.5" x2="302.7" y2="1875" stroke="#000" stroke-width="2.4"/><line x1="298.8" y1="1822.5" x2="306.6" y2="1822.5" stroke="#000" stroke-width="2.4"/>
<line x1="375.9" y1="1832.6" x2="375.9" y2="1880.5" stroke="#000" stroke-width="2.4"/><line x1="372" y1="1832.6" x2="379.8" y2="1832.6" stroke="#000" stroke-width="2.4"/>
<line x1="450" y1="1794.2" x2="450" y2="1885.6" stroke="#000" stroke-width="2.4"/><line x1="446.1" y1="1794.2" x2="453.9" y2="1794.2" stroke="#000" stroke-width="2.4"/>
<line x1="524.7" y1="1812.4" x2="524.7" y2="1871" stroke="#000" stroke-width="2.4"/><line x1="520.8" y1="1812.4" x2="528.6" y2="1812.4" stroke="#000" stroke-width="2.4"/>
<line x1="597.9" y1="1843.7" x2="597.9" y2="1884" stroke="#000" stroke-width="2.4"/><line x1="594" y1="1843.7" x2="601.8" y2="1843.7" stroke="#000" stroke-width="2.4"/>
<line x1="673.2" y1="1858.3" x2="673.2" y2="1879" stroke="#000" stroke-width="2.4"/><line x1="669.3" y1="1858.3" x2="677.1" y2="1858.3" stroke="#000" stroke-width="2.4"/>
<line x1="151.3" y1="1845.3" x2="159" y2="1845.3" stroke="#000" stroke-width="2.4"/>
<line x1="229.3" y1="2060.8" x2="229.3" y2="2101.2" stroke="#000" stroke-width="2.4"/><line x1="225.4" y1="2060.8" x2="233.2" y2="2060.8" stroke="#000" stroke-width="2.4"/>
<line x1="302.7" y1="2070.7" x2="302.7" y2="2110.6" stroke="#000" stroke-width="2.4"/><line x1="298.8" y1="2070.7" x2="306.6" y2="2070.7" stroke="#000" stroke-width="2.4"/>
<line x1="375.9" y1="2079.3" x2="375.9" y2="2116.6" stroke="#000" stroke-width="2.4"/><line x1="372" y1="2079.3" x2="379.8" y2="2079.3" stroke="#000" stroke-width="2.4"/>
<line x1="524.3" y1="2079.8" x2="524.3" y2="2119.7" stroke="#000" stroke-width="2.4"/><line x1="520.4" y1="2079.8" x2="528.2" y2="2079.8" stroke="#000" stroke-width="2.4"/>
<line x1="597.9" y1="2079.8" x2="597.9" y2="2113.6" stroke="#000" stroke-width="2.4"/><line x1="594" y1="2079.8" x2="601.8" y2="2079.8" stroke="#000" stroke-width="2.4"/>
<polyline points="155,1869 229.3,2101.2 302.7,2110.6 375.9,2116.6 449.2,2127.2 524.3,2119.7 597.9,2113.6 671,2119.7" fill="none" stroke="#000" stroke-width="5.8" stroke-linejoin="round"/>
<polyline points="155,1866 228.8,1903.7 302.7,1875 375.9,1880.5 450,1885.6 524.7,1871 597.9,1884 673.2,1879" fill="none" stroke="#000" stroke-width="5.4" stroke-linejoin="round"/>
<circle cx="229.3" cy="2101.2" r="15" fill="#000"/>
<circle cx="302.7" cy="2110.6" r="15" fill="#000"/>
<circle cx="375.9" cy="2116.6" r="15" fill="#000"/>
<circle cx="449.2" cy="2127.2" r="15" fill="#000"/>
<circle cx="524.3" cy="2119.7" r="15" fill="#000"/>
<circle cx="597.9" cy="2113.6" r="15" fill="#000"/>
<circle cx="671" cy="2119.7" r="15" fill="#000"/>
<circle cx="154.8" cy="1891.4" r="12.7" fill="#fff" stroke="#000" stroke-width="3.3"/>
<circle cx="154.8" cy="1859.5" r="14.2" fill="#000"/>
<circle cx="154.8" cy="1861.7" r="12.3" fill="#fff" stroke="#000" stroke-width="3.0"/>
<circle cx="228.3" cy="1905.5" r="14.2" fill="#000"/>
<circle cx="228.8" cy="1903.7" r="12.3" fill="#fff" stroke="#000" stroke-width="3.0"/>
<circle cx="301.9" cy="1876.2" r="14.2" fill="#000"/>
<circle cx="302.7" cy="1875" r="12.3" fill="#fff" stroke="#000" stroke-width="3.0"/>
<circle cx="375.3" cy="1882.1" r="14.2" fill="#000"/>
<circle cx="375.9" cy="1880.5" r="12.3" fill="#fff" stroke="#000" stroke-width="3.0"/>
<circle cx="450" cy="1883.8" r="14.2" fill="#000"/>
<circle cx="450" cy="1885.6" r="12.3" fill="#fff" stroke="#000" stroke-width="3.0"/>
<circle cx="524.1" cy="1872.6" r="14.2" fill="#000"/>
<circle cx="524.7" cy="1871" r="12.3" fill="#fff" stroke="#000" stroke-width="3.0"/>
<circle cx="597.3" cy="1885.6" r="14.2" fill="#000"/>
<circle cx="597.9" cy="1884" r="12.3" fill="#fff" stroke="#000" stroke-width="3.0"/>
<circle cx="671.6" cy="1877.2" r="14.2" fill="#000"/>
<circle cx="673.2" cy="1879" r="12.3" fill="#fff" stroke="#000" stroke-width="3.0"/>
<circle cx="674.6" cy="1880.2" r="12.4" fill="#fff" stroke="#000" stroke-width="2.2"/>
<text transform="translate(216.7,2039) scale(0.940,1.105)" x="-8.87" y="17.36" font-size="34" class="s">*</text>
<text transform="translate(248,2039.4) scale(0.940,1.105)" x="-8.87" y="17.36" font-size="34" class="s">*</text>
<text transform="translate(286,2053.2) scale(0.940,1.105)" x="-8.87" y="17.36" font-size="34" class="s">*</text>
<text transform="translate(317.9,2053.2) scale(0.940,1.105)" x="-8.87" y="17.36" font-size="34" class="s">*</text>
<text transform="translate(357.2,2059.2) scale(0.940,1.105)" x="-8.87" y="17.36" font-size="34" class="s">*</text>
<text transform="translate(389.5,2059.2) scale(0.940,1.105)" x="-8.87" y="17.36" font-size="34" class="s">*</text>
<text transform="translate(431.9,2097.2) scale(0.940,1.105)" x="-8.87" y="17.36" font-size="34" class="s">*</text>
<text transform="translate(464.2,2097.2) scale(0.940,1.105)" x="-8.87" y="17.36" font-size="34" class="s">*</text>
<text transform="translate(506,2065.7) scale(0.940,1.105)" x="-8.87" y="17.36" font-size="34" class="s">*</text>
<text transform="translate(538.3,2065.7) scale(0.940,1.105)" x="-8.87" y="17.36" font-size="34" class="s">*</text>
<text transform="translate(581.2,2060.7) scale(0.940,1.105)" x="-8.87" y="17.36" font-size="34" class="s">*</text>
<text transform="translate(613,2060.7) scale(0.940,1.105)" x="-8.87" y="17.36" font-size="34" class="s">*</text>
<text transform="translate(653.9,2092.7) scale(0.940,1.105)" x="-8.87" y="17.36" font-size="34" class="s">*</text>
<text transform="translate(686.2,2092.7) scale(0.940,1.105)" x="-8.87" y="17.36" font-size="34" class="s">*</text>

<!-- panel f -->
<text transform="translate(788.2,1660.6) scale(1.1,1)" font-size="38.5" class="t l">f</text>
<line x1="926.1" y1="1693.2" x2="926.1" y2="2210.9" stroke="#000" stroke-width="5.5"/>
<polygon points="916.2,2197.3 1376.3,2198.7 1376.3,2204.9 916.2,2203.5" fill="#000"/>
<text x="896" y="2212.1" font-size="34.2" class="t" text-anchor="end">0%</text>
<line x1="916.2" y1="2128.3" x2="926.1" y2="2128.3" stroke="#000" stroke-width="5.5"/>
<text x="896" y="2140" font-size="34.2" class="t" text-anchor="end">20%</text>
<line x1="916.2" y1="2056.3" x2="926.1" y2="2056.3" stroke="#000" stroke-width="5.5"/>
<text x="896" y="2068" font-size="34.2" class="t" text-anchor="end">40%</text>
<line x1="916.2" y1="1984.2" x2="926.1" y2="1984.2" stroke="#000" stroke-width="5.5"/>
<text x="896" y="1995.9" font-size="34.2" class="t" text-anchor="end">60%</text>
<line x1="916.2" y1="1912.1" x2="926.1" y2="1912.1" stroke="#000" stroke-width="5.5"/>
<text x="896" y="1923.8" font-size="34.2" class="t" text-anchor="end">80%</text>
<line x1="916.2" y1="1840.1" x2="926.1" y2="1840.1" stroke="#000" stroke-width="5.5"/>
<text x="896" y="1851.8" font-size="34.2" class="t" text-anchor="end">100%</text>
<line x1="916.2" y1="1768" x2="926.1" y2="1768" stroke="#000" stroke-width="5.5"/>
<text x="896" y="1779.7" font-size="34.2" class="t" text-anchor="end">120%</text>
<line x1="916.2" y1="1695.9" x2="926.1" y2="1695.9" stroke="#000" stroke-width="5.5"/>
<text x="896" y="1707.6" font-size="34.2" class="t" text-anchor="end">140%</text>
<line x1="976" y1="2200.4" x2="976" y2="2210.9" stroke="#000" stroke-width="5.4"/>
<line x1="1025.7" y1="2200.4" x2="1025.7" y2="2211" stroke="#000" stroke-width="5.4"/>
<line x1="1075.5" y1="2200.4" x2="1075.5" y2="2211.2" stroke="#000" stroke-width="5.4"/>
<line x1="1125.2" y1="2200.4" x2="1125.2" y2="2211.3" stroke="#000" stroke-width="5.4"/>
<line x1="1175" y1="2200.4" x2="1175" y2="2211.5" stroke="#000" stroke-width="5.4"/>
<line x1="1224.7" y1="2200.4" x2="1224.7" y2="2211.6" stroke="#000" stroke-width="5.4"/>
<line x1="1274.5" y1="2200.4" x2="1274.5" y2="2211.8" stroke="#000" stroke-width="5.4"/>
<line x1="1324.2" y1="2200.4" x2="1324.2" y2="2211.9" stroke="#000" stroke-width="5.4"/>
<line x1="1374" y1="2200.4" x2="1374" y2="2212.1" stroke="#000" stroke-width="5.4"/>
<text x="951" y="2251.5" font-size="33.2" class="t" text-anchor="middle">1</text>
<text x="1000.5" y="2251.5" font-size="33.2" class="t" text-anchor="middle">3</text>
<text x="1050" y="2251.5" font-size="33.2" class="t" text-anchor="middle">5</text>
<text x="1099.6" y="2251.5" font-size="33.2" class="t" text-anchor="middle">7</text>
<text x="1149.2" y="2251.5" font-size="33.2" class="t" text-anchor="middle">10</text>
<text x="1200" y="2251.5" font-size="33.2" class="t" text-anchor="middle">13</text>
<text x="1249.3" y="2251.5" font-size="33.2" class="t" text-anchor="middle">17</text>
<text x="1298" y="2251.5" font-size="33.2" class="t" text-anchor="middle">20</text>
<text x="1348.4" y="2251.5" font-size="33.2" class="t" text-anchor="middle">23</text>
<text x="1323" y="2290.2" font-size="37" class="b" stroke="#000" stroke-width="0.9">Days</text>
<line x1="951" y1="2068" x2="951" y2="2110" stroke="#000" stroke-width="2.2"/><line x1="944.5" y1="2068" x2="957.5" y2="2068" stroke="#000" stroke-width="2.2"/>
<line x1="951" y1="2073" x2="951" y2="2110" stroke="#000" stroke-width="2.2"/><line x1="944.5" y1="2073" x2="957.5" y2="2073" stroke="#000" stroke-width="2.2"/>
<line x1="1000.5" y1="1954.3" x2="1000.5" y2="2037" stroke="#000" stroke-width="2.2"/><line x1="994" y1="1954.3" x2="1007" y2="1954.3" stroke="#000" stroke-width="2.2"/>
<line x1="1050" y1="1828" x2="1050" y2="1864" stroke="#000" stroke-width="2.2"/><line x1="1043.5" y1="1828" x2="1056.5" y2="1828" stroke="#000" stroke-width="2.2"/>
<line x1="1099.6" y1="1771" x2="1099.6" y2="1816" stroke="#000" stroke-width="2.2"/><line x1="1093.1" y1="1771" x2="1106.1" y2="1771" stroke="#000" stroke-width="2.2"/>
<line x1="1050" y1="2055" x2="1050" y2="2087" stroke="#000" stroke-width="2.2"/><line x1="1043.5" y1="2055" x2="1056.5" y2="2055" stroke="#000" stroke-width="2.2"/>
<line x1="1149.2" y1="1897.8" x2="1149.2" y2="1938" stroke="#000" stroke-width="2.2"/><line x1="1142.7" y1="1897.8" x2="1155.7" y2="1897.8" stroke="#000" stroke-width="2.2"/>
<line x1="1200" y1="1739.7" x2="1200" y2="1832" stroke="#000" stroke-width="2.2"/><line x1="1193.5" y1="1739.7" x2="1206.5" y2="1739.7" stroke="#000" stroke-width="2.2"/>
<line x1="1099.6" y1="2090" x2="1099.6" y2="2115" stroke="#000" stroke-width="2.2"/><line x1="1093.1" y1="2090" x2="1106.1" y2="2090" stroke="#000" stroke-width="2.2"/>
<line x1="1000.5" y1="2063" x2="1000.5" y2="2090" stroke="#000" stroke-width="2.2"/><line x1="994" y1="2063" x2="1007" y2="2063" stroke="#000" stroke-width="2.2"/>
<line x1="1000.5" y1="2075.5" x2="1000.5" y2="2090" stroke="#000" stroke-width="2.2"/><line x1="994" y1="2075.5" x2="1007" y2="2075.5" stroke="#000" stroke-width="2.2"/>
<line x1="1149.2" y1="2082" x2="1149.2" y2="2109" stroke="#000" stroke-width="2.2"/><line x1="1142.7" y1="2082" x2="1155.7" y2="2082" stroke="#000" stroke-width="2.2"/>
<line x1="1200" y1="2063" x2="1200" y2="2091" stroke="#000" stroke-width="2.2"/><line x1="1193.5" y1="2063" x2="1206.5" y2="2063" stroke="#000" stroke-width="2.2"/>
<line x1="1249.3" y1="2000.4" x2="1249.3" y2="2048" stroke="#000" stroke-width="2.2"/><line x1="1242.8" y1="2000.4" x2="1255.8" y2="2000.4" stroke="#000" stroke-width="2.2"/>
<line x1="1298" y1="1995" x2="1298" y2="2035" stroke="#000" stroke-width="2.2"/><line x1="1291.5" y1="1995" x2="1304.5" y2="1995" stroke="#000" stroke-width="2.2"/>
<line x1="1348.4" y1="1847.8" x2="1348.4" y2="1880" stroke="#000" stroke-width="2.2"/><line x1="1341.9" y1="1847.8" x2="1354.9" y2="1847.8" stroke="#000" stroke-width="2.2"/>
<polyline points="951,2127.8 1000.5,2090.6 1099.6,2115.4 1149.2,2109.4 1200,2091.6 1249.3,2048.5 1298,2035 1348.4,1880" fill="none" stroke="#000" stroke-width="6.1" stroke-linejoin="round"/>
<polyline points="951,2095.5 1000.5,2119.3 1050,2087 1099.6,2071.7 1149.2,1938.5 1200,1832" fill="none" stroke="#000" stroke-width="6.1" stroke-linejoin="round"/>
<polyline points="951,2110.4 1000.5,2037.6 1050,1864 1099.6,1816.5" fill="none" stroke="#000" stroke-width="6.1" stroke-linejoin="round"/>
<polygon points="951,2113 965,2138.6 937,2138.6" fill="#000"/>
<polygon points="1000.5,2075.8 1014.5,2101.4 986.5,2101.4" fill="#000"/>
<polygon points="1099.6,2100.6 1113.6,2126.2 1085.6,2126.2" fill="#000"/>
<polygon points="1149.2,2094.6 1163.2,2120.2 1135.2,2120.2" fill="#000"/>
<polygon points="1200,2076.8 1214,2102.4 1186,2102.4" fill="#000"/>
<polygon points="1249.3,2033.7 1263.3,2059.3 1235.3,2059.3" fill="#000"/>
<polygon points="1298,2020.2 1312,2045.8 1284,2045.8" fill="#000"/>
<polygon points="1348.4,1865.2 1362.4,1890.8 1334.4,1890.8" fill="#000"/>
<rect x="937.2" y="2081.7" width="27.6" height="27.6" fill="#000"/>
<rect x="986.7" y="2105.5" width="27.6" height="27.6" fill="#000"/>
<rect x="1036.2" y="2073.2" width="27.6" height="27.6" fill="#000"/>
<rect x="1085.8" y="2057.9" width="27.6" height="27.6" fill="#000"/>
<rect x="1135.4" y="1924.7" width="27.6" height="27.6" fill="#000"/>
<rect x="1186.2" y="1818.2" width="27.6" height="27.6" fill="#000"/>
<circle cx="951" cy="2110.4" r="14" fill="#000"/>
<circle cx="1000.5" cy="2037.6" r="14" fill="#000"/>
<circle cx="1050" cy="1864" r="14" fill="#000"/>
<circle cx="1099.6" cy="1816.5" r="14" fill="#000"/>
<line x1="1375.5" y1="1946.9" x2="1427.5" y2="1946.9" stroke="#000" stroke-width="6" stroke-linecap="round"/>
<text x="1434" y="1958.7" font-size="33.7" class="t">1day</text>
<line x1="1375.5" y1="2001.4" x2="1427.5" y2="2001.4" stroke="#000" stroke-width="6" stroke-linecap="round"/>
<text x="1434" y="2013.2" font-size="33.7" class="t">4days</text>
<line x1="1375.5" y1="2054.9" x2="1427.5" y2="2054.9" stroke="#000" stroke-width="6" stroke-linecap="round"/>
<text x="1434" y="2066.7" font-size="33.7" class="t">10days</text>
<circle cx="1400.5" cy="1946.9" r="10.8" fill="#000"/>
<rect x="1390.1" y="1991" width="20.8" height="20.8" fill="#000"/>
<polygon points="1400.5,2043.4 1412.5,2063.9 1388.5,2063.9" fill="#000"/>


</svg>
</body></html>
